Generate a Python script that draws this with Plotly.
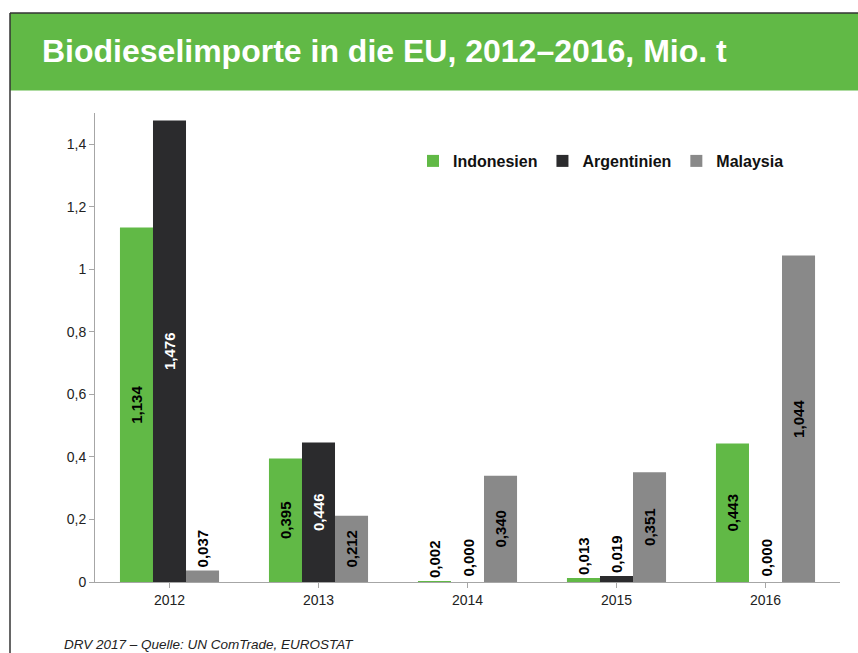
import plotly.graph_objects as go

# ---- data ----
years = ["2012", "2013", "2014", "2015", "2016"]
indonesien = [1.134, 0.395, 0.002, 0.013, 0.443]
argentinien = [1.476, 0.446, 0.000, 0.019, 0.000]
malaysia = [0.037, 0.212, 0.340, 0.351, 1.044]
series_names = ["Indonesien", "Argentinien", "Malaysia"]
y_ticks = [0, 0.2, 0.4, 0.6, 0.8, 1.0, 1.2, 1.4]

title_text = "Biodieselimporte in die EU, 2012–2016, Mio. t"
source_text = "DRV 2017 – Quelle: UN ComTrade, EUROSTAT"

# ---- style ----
colors = ["#61b946", "#2b2b2d", "#898989"]
inside_colors = ["#000000", "#ffffff", "#000000"]
FONT = "Arial, Liberation Sans, sans-serif"
LABEL_SIZE = 15

W, H = 858, 653
L, R, T, B = 95, 18, 113, 71
PW, PH = W - L - R, H - T - B
BARGAP = 0.335


def px_x(px):
    return (px - L) / PW


def px_y(py):
    return (H - B - py) / PH


fig = go.Figure()
all_series = [indonesien, argentinien, malaysia]
for name, vals, col, icol in zip(series_names, all_series, colors, inside_colors):
    fig.add_trace(go.Bar(
        name=name, x=years, y=vals,
        marker=dict(color=col, line=dict(width=0)),
        texttemplate="<b>%{y:.3f}</b>",
        textposition="auto",
        textangle=-90,
        insidetextanchor="middle",
        constraintext="none",
        insidetextfont=dict(color=icol, size=LABEL_SIZE, family=FONT),
        outsidetextfont=dict(color="#000000", size=LABEL_SIZE, family=FONT),
        cliponaxis=False,
        hoverinfo="skip",
    ))

# labels for zero-height bars (plotly does not draw text on empty bars)
cat_px = PW / len(years)
bar_px = cat_px * (1 - BARGAP) / len(series_names)
annotations = []
for si, vals in enumerate(all_series):
    for ci, v in enumerate(vals):
        if v == 0:
            annotations.append(dict(
                x=ci, y=v, xref="x", yref="y",
                text="<b>" + f"{v:.3f}".replace(".", ",") + "</b>",
                textangle=-90, showarrow=False,
                xanchor="center", yanchor="bottom", yshift=3,
                xshift=(si - (len(series_names) - 1) / 2) * bar_px,
                font=dict(family=FONT, size=LABEL_SIZE, color="#000000")))

annotations.append(dict(text="<i>" + source_text + "</i>", xref="paper", yref="paper",
                        x=px_x(62), xanchor="left", y=px_y(644), yanchor="middle",
                        showarrow=False, font=dict(family=FONT, size=13.5, color="#222222")))

shapes = [
    # green header band
    dict(type="rect", xref="paper", yref="paper",
         x0=px_x(10), x1=px_x(870), y0=px_y(90.5), y1=px_y(13),
         fillcolor="#61b946", line=dict(width=0), layer="above"),
    # frame lines
    dict(type="line", xref="paper", yref="paper",
         x0=px_x(10), x1=px_x(870), y0=px_y(13), y1=px_y(13),
         line=dict(color="#333333", width=1.5)),
    dict(type="line", xref="paper", yref="paper",
         x0=px_x(10), x1=px_x(10), y0=px_y(13), y1=px_y(660),
         line=dict(color="#333333", width=1.5)),
]

fig.update_layout(
    width=W, height=H,
    margin=dict(l=L, r=R, t=T, b=B),
    paper_bgcolor="white",
    plot_bgcolor="rgba(0,0,0,0)",
    separators=",.",
    barmode="group",
    bargap=BARGAP,
    bargroupgap=0,
    font=dict(family=FONT, color="#222222", size=14),
    title=dict(text="<b>" + title_text + "</b>",
               xref="container", yref="container",
               x=42 / W, xanchor="left",
               y=1 - 51 / H, yanchor="middle",
               font=dict(family=FONT, size=32, color="white")),
    shapes=shapes,
    annotations=annotations,
    showlegend=True,
    legend=dict(orientation="h", x=px_x(413), xanchor="left",
                y=px_y(161), yanchor="middle",
                font=dict(family=FONT, size=16, color="#111111", weight="bold"),
                bgcolor="rgba(0,0,0,0)", traceorder="normal"),
    xaxis=dict(type="category", categoryorder="array", categoryarray=years,
               range=[-0.5, len(years) - 0.5],
               showline=True, linecolor="#a6a6a6", linewidth=1,
               ticks="outside", ticklen=5, tickcolor="#a6a6a6",
               showgrid=False, zeroline=False,
               tickfont=dict(size=14, color="#222222")),
    yaxis=dict(range=[0, 1.5], tickvals=y_ticks, showline=True,
               linecolor="#a6a6a6", linewidth=1,
               ticks="outside", ticklen=5, tickcolor="#a6a6a6",
               showgrid=False, zeroline=False,
               tickfont=dict(size=14, color="#222222")),
)

fig.write_html("out.html",
               config={"displayModeBar": False},
               post_script="document.body.style.margin='0px';document.body.style.padding='0px';")
